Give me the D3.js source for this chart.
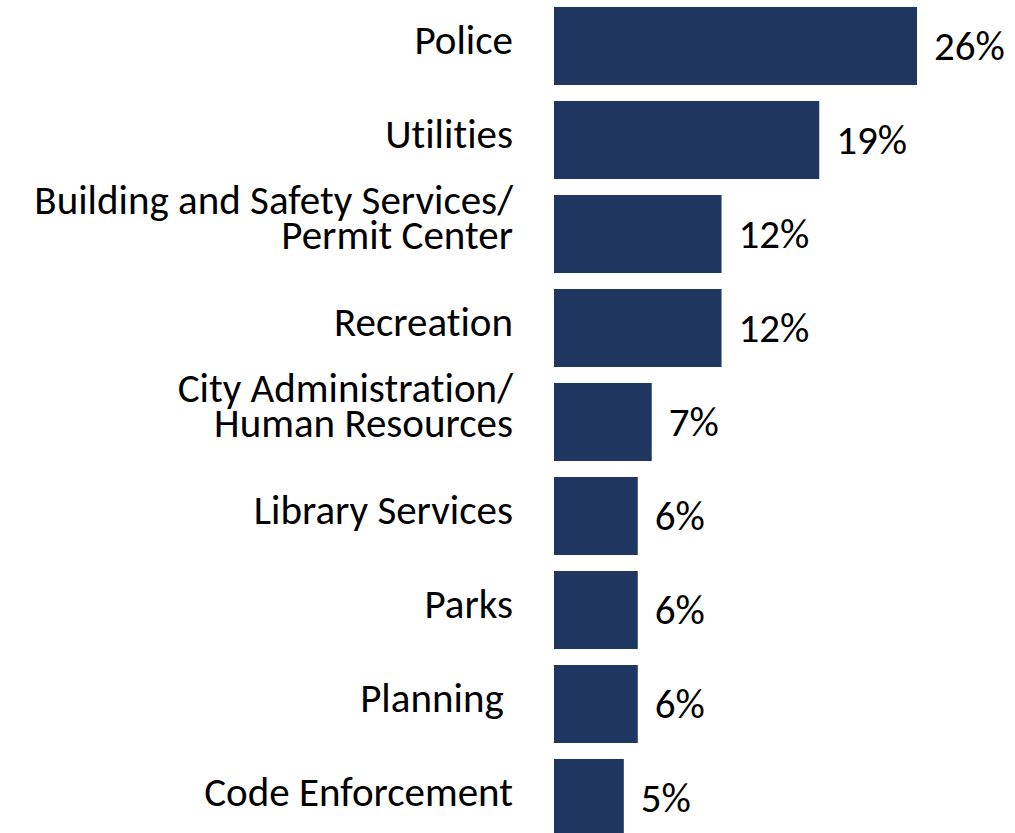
<!DOCTYPE html>
<html>
<head>
<meta charset="utf-8">
<script src="https://cdn.jsdelivr.net/npm/d3@7"></script>
<style>
  body { margin: 0; background: #fff; }
  svg { display: block; }
  text { font-family: Carlito, Calibri, Lato, sans-serif; fill: #000; font-variant-ligatures: none; }
</style>
</head>
<body>
<svg id="chart" width="1015" height="833"></svg>
<script>
// departments, top to bottom (each entry = lines of the label)
const departments = [
  ["Police"],
  ["Utilities"],
  ["Building and Safety Services/", "Permit Center"],
  ["Recreation"],
  ["City Administration/", "Human Resources"],
  ["Library Services"],
  ["Parks"],
  ["Planning\u00a0"],
  ["Code Enforcement"]
];
const shares = [26, 19, 12, 12, 7, 6, 6, 6, 5];

const W = 1015, H = 833;
const BAR_COLOR = "#1f3660";
const FONT_SIZE = 41;
const LABEL_X = 513;

const svg = d3.select("#chart");

const y = d3.scaleBand()
  .domain(d3.range(departments.length))
  .range([-1, 845])
  .paddingInner(0.17)
  .paddingOuter(0.085);

const x = d3.scaleLinear()
  .domain([0, 26])
  .range([554, 917]);

const rows = svg.append("g")
  .attr("class", "rows")
  .selectAll("g")
  .data(shares)
  .enter()
  .append("g");

rows.append("rect")
  .attr("x", x(0))
  .attr("y", (d, i) => y(i))
  .attr("width", d => x(d) - x(0))
  .attr("height", y.bandwidth())
  .attr("fill", BAR_COLOR);

rows.append("text")
  .attr("x", d => x(d) + 17)
  .attr("y", (d, i) => y(i) + y.bandwidth() / 2 + 14)
  .attr("font-size", FONT_SIZE)
  .text(d => d + "%");

// one text element per label line
const lines = [];
departments.forEach((d, i) => {
  d.forEach((t, j) => lines.push({ text: t, i: i, dy: d.length > 1 ? (j === 0 ? -20 : 15) : 8 }));
});

svg.append("g")
  .attr("class", "labels")
  .selectAll("text")
  .data(lines)
  .enter()
  .append("text")
  .attr("text-anchor", "end")
  .attr("font-size", FONT_SIZE)
  .attr("x", LABEL_X)
  .attr("y", d => y(d.i) + y.bandwidth() / 2 + d.dy)
  .text(d => d.text);
</script>
</body>
</html>
